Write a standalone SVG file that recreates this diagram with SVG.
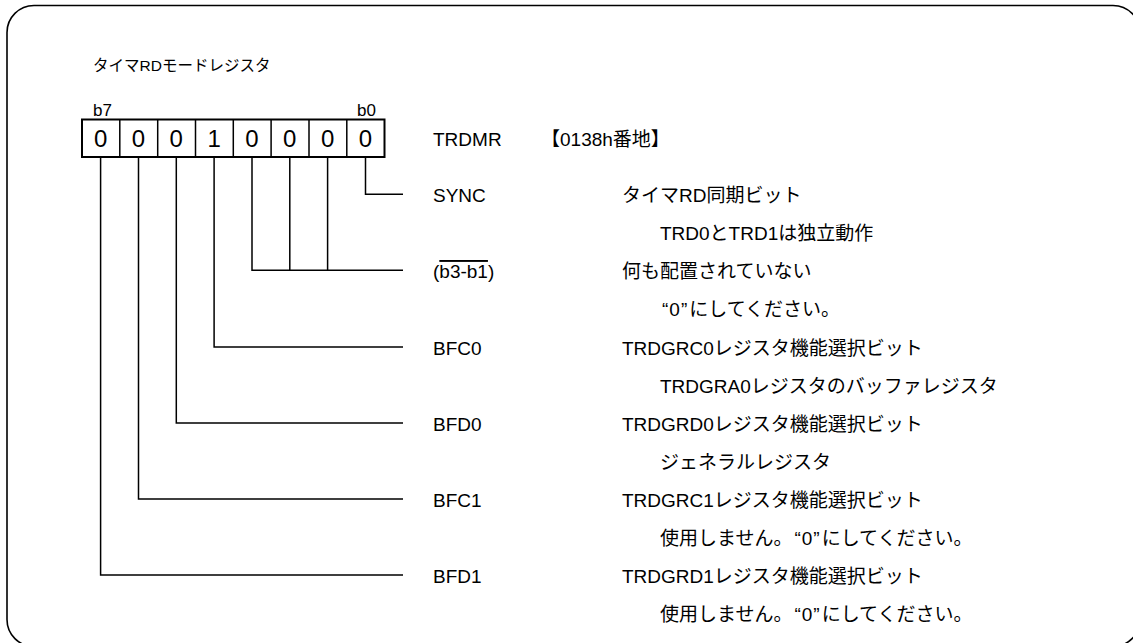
<svg xmlns="http://www.w3.org/2000/svg" width="1133" height="643" viewBox="0 0 1133 643">
<style>
text{font-family:"Liberation Sans","Noto Sans CJK JP",sans-serif;fill:#000}
.t{font-size:19px}
.s{font-size:15.5px}
.b{font-size:17px}
.d{font-size:24px;text-anchor:middle}
.ln{fill:none;stroke:#000;stroke-width:1.5}
</style>
<rect x="7" y="5.5" width="1133" height="641" rx="27" ry="27" fill="#fff" stroke="#000" stroke-width="1.6"/>
<text class="s" x="93" y="71">タイマRDモードレジスタ</text>
<g id="register">
<rect x="82" y="119.5" width="302.5" height="37.5" fill="#fff" stroke="#000" stroke-width="2"/>
<path class="ln" d="M119.8,119.5V157M157.7,119.5V157M195.5,119.5V157M233.3,119.5V157M271.1,119.5V157M309,119.5V157M346.8,119.5V157"/>
<text class="b" x="93" y="116">b7</text>
<text class="b" x="357" y="116">b0</text>
<text class="d" x="100.6" y="147">0</text>
<text class="d" x="138.5" y="147">0</text>
<text class="d" x="176.3" y="147">0</text>
<text class="d" x="214.1" y="147">1</text>
<text class="d" x="252" y="147">0</text>
<text class="d" x="289.8" y="147">0</text>
<text class="d" x="327.6" y="147">0</text>
<text class="d" x="365.5" y="147">0</text>
<text class="t" x="433" y="146">TRDMR</text>
<text class="t" x="541" y="146">【0138h番地】</text>
</g>
<g id="connectors">
<path class="ln" d="M365.5,157V194.3H403"/>
<path class="ln" d="M252,157V270.3H403M289.8,157V270.3M327.6,157V270.3"/>
<path class="ln" d="M214.1,157V347H403"/>
<path class="ln" d="M176.3,157V423H403"/>
<path class="ln" d="M138.5,157V499H403"/>
<path class="ln" d="M100.6,157V575H403"/>
</g>
<g id="sync">
<text class="t" x="433" y="202">SYNC</text>
<text class="t" x="622" y="202">タイマRD同期ビット</text>
<text class="t" x="660" y="240">TRD0とTRD1は独立動作</text>
</g>
<g id="b3-b1">
<text class="t" x="433" y="278">(<tspan text-decoration="overline">b3-b1</tspan>)</text>
<text class="t" x="622" y="278">何も配置されていない</text>
<text class="t" x="660" y="316"><tspan dx="2">“</tspan><tspan dx="1">0</tspan><tspan dx="1">”</tspan><tspan dx="2">にしてください。</tspan></text>
</g>
<g id="bfc0">
<text class="t" x="433" y="355">BFC0</text>
<text class="t" x="622" y="355">TRDGRC0レジスタ機能選択ビット</text>
<text class="t" x="660" y="393">TRDGRA0レジスタのバッファレジスタ</text>
</g>
<g id="bfd0">
<text class="t" x="433" y="431">BFD0</text>
<text class="t" x="622" y="431">TRDGRD0レジスタ機能選択ビット</text>
<text class="t" x="660" y="469">ジェネラルレジスタ</text>
</g>
<g id="bfc1">
<text class="t" x="433" y="507">BFC1</text>
<text class="t" x="622" y="507">TRDGRC1レジスタ機能選択ビット</text>
<text class="t" x="660" y="545">使用しません。<tspan dx="2">“</tspan><tspan dx="1">0</tspan><tspan dx="1">”</tspan><tspan dx="2">にしてください。</tspan></text>
</g>
<g id="bfd1">
<text class="t" x="433" y="583">BFD1</text>
<text class="t" x="622" y="583">TRDGRD1レジスタ機能選択ビット</text>
<text class="t" x="660" y="621">使用しません。<tspan dx="2">“</tspan><tspan dx="1">0</tspan><tspan dx="1">”</tspan><tspan dx="2">にしてください。</tspan></text>
</g>
</svg>
